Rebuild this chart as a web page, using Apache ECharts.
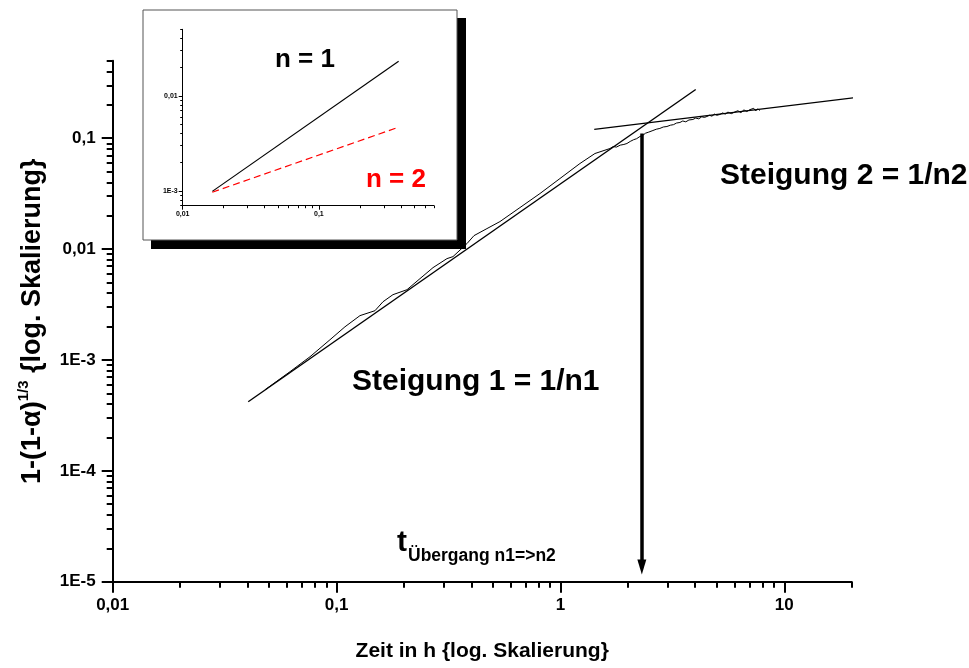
<!DOCTYPE html>
<html><head><meta charset="utf-8">
<script src="https://cdn.jsdelivr.net/npm/echarts@6/dist/echarts.min.js"></script>
<style>html,body{margin:0;padding:0;background:#fff}#c{width:969px;height:668px}</style>
</head><body><div id="c"></div>
<script>
// ---------- data ----------
const curveX = [0.0479, 0.0619, 0.0761, 0.0934, 0.109, 0.1272, 0.1484, 0.1612, 0.1786, 0.2063, 0.2358, 0.2696, 0.3112, 0.3311, 0.3823, 0.411, 0.4696, 0.5368, 0.6594, 0.8098, 0.995, 1.222, 1.426, 1.664, 1.72, 1.78, 1.85, 1.92, 1.982, 2.05, 2.12, 2.19, 2.265, 2.33, 2.40, 2.48, 2.589, 2.68, 2.78, 2.88, 2.99, 3.10, 3.20, 3.30, 3.418, 3.52, 3.63, 3.75, 3.906, 4.02, 4.15, 4.28, 4.40, 4.511, 4.63, 4.75, 4.88, 5.00, 5.158, 5.30, 5.45, 5.60, 5.80, 6.016, 6.20, 6.40, 6.60, 6.80, 7.022, 7.15, 7.30, 7.45, 7.60, 7.78];
const curveY = [5.38e-4, 7.83e-4, 1.069e-3, 1.52e-3, 1.99e-3, 2.51e-3, 2.78e-3, 3.35e-3, 3.88e-3, 4.30e-3, 5.41e-3, 6.80e-3, 8.20e-3, 8.55e-3, 0.0112, 0.01322, 0.0153, 0.0177, 0.02367, 0.03167, 0.04327, 0.0591, 0.07276, 0.0807, 0.0840, 0.0832, 0.0866, 0.0878, 0.0896, 0.0935, 0.0968, 0.0990, 0.1036, 0.1060, 0.1110, 0.1135, 0.1173, 0.1205, 0.1225, 0.1262, 0.1275, 0.1310, 0.1325, 0.1370, 0.1386, 0.1430, 0.1405, 0.1460, 0.1475, 0.1520, 0.1495, 0.1560, 0.1540, 0.1570, 0.1610, 0.1580, 0.1650, 0.1610, 0.1637, 0.1690, 0.1650, 0.1720, 0.1665, 0.1724, 0.1770, 0.1700, 0.1800, 0.1740, 0.1810, 0.1740, 0.1860, 0.1760, 0.1840, 0.1779];
const fit1X = [0.0403, 4.02];
const fit1Y = [4.2e-4, 0.275];
const fit2X = [1.416, 26.5];
const fit2Y = [0.12, 0.247];
const arrowX = 2.31;
const arrowY = [0.110, 1.36e-5];
const insetX = [0.0165, 0.385];
const insetN1 = [0.00099, 0.0231];
const insetN2 = [0.00097, 0.00468];

const xMajor = [0.01, 0.1, 1, 10];
const xMinor = [0.02,0.03,0.04,0.05,0.06,0.07,0.08,0.09,0.2,0.3,0.4,0.5,0.6,0.7,0.8,0.9,2,3,4,5,6,7,8,9,20];
const yMajor = [1e-5, 1e-4, 1e-3, 0.01, 0.1];
const yMinor = [2e-5,3e-5,4e-5,5e-5,6e-5,7e-5,8e-5,9e-5,2e-4,3e-4,4e-4,5e-4,6e-4,7e-4,8e-4,9e-4,2e-3,3e-3,4e-3,5e-3,6e-3,7e-3,8e-3,9e-3,0.02,0.03,0.04,0.05,0.06,0.07,0.08,0.09,0.2,0.3,0.4,0.5];
const inXMajor = [0.01, 0.1];
const inXMinor = [0.02,0.03,0.04,0.05,0.06,0.07,0.08,0.09,0.2,0.3,0.4,0.5,0.6,0.7];
const inYMajor = [0.001, 0.01];
const inYMinor = [7e-4,8e-4,9e-4,2e-3,3e-3,4e-3,5e-3,6e-3,7e-3,8e-3,9e-3,0.02,0.03,0.04,0.05];

const xTitle = 'Zeit in h {log. Skalierung}';
const yTitleMain = '1-(1-α)';
const yTitleSup = '1/3';
const yTitleRest = ' {log. Skalierung}';

// ---------- helpers ----------
const FONT = '"Liberation Sans", Arial, sans-serif';
function fmt(v) {
  if (v >= 1) return String(Math.round(v));
  if (v >= 0.01 - 1e-12) return String(+v.toPrecision(3)).replace('.', ',');
  return '1E' + Math.round(Math.log10(v));
}
const zip = (a, b) => a.map((v, i) => [v, b[i]]);

function logAxis(o) {
  return Object.assign({
    type: 'log', logBase: 10, offset: 0,
    splitLine: { show: false },
    axisLine: { show: true, onZero: false, lineStyle: { color: '#000', width: 2 } },
  }, o);
}

const mainLbl = { fontFamily: FONT, fontWeight: 'bold', fontSize: 17, color: '#000', formatter: fmt };
const inLbl = { fontFamily: FONT, fontWeight: 'bold', fontSize: 7, color: '#000', formatter: fmt };

const option = {
  backgroundColor: '#fff',
  animation: false,
  grid: [
    { left: 112.7, top: 60.7, width: 739, height: 521, outerBoundsMode: 'none', containLabel: false },
    { left: 182.7, top: 29.3, width: 251.3, height: 176.4, outerBoundsMode: 'none', containLabel: false, z: 5 }
  ],
  xAxis: [
    logAxis({ gridIndex: 0, position: 'bottom', min: 0.01, max: 20,
      axisTick: { customValues: xMajor, length: 11, lineStyle: { color: '#000', width: 2 } },
      axisLabel: Object.assign({ customValues: xMajor, margin: 15 }, mainLbl),
      name: xTitle, nameLocation: 'middle', nameGap: 59,
      nameTextStyle: { fontFamily: FONT, fontWeight: 'bold', fontSize: 21, color: '#000' } }),
    logAxis({ gridIndex: 0, position: 'bottom', min: 0.01, max: 20,
      axisLine: { show: false },
      axisTick: { customValues: xMinor, length: 6, lineStyle: { color: '#000', width: 2 } },
      axisLabel: { show: false } }),
    logAxis({ gridIndex: 1, position: 'bottom', min: 0.01, max: 0.7,
      axisLine: { show: true, onZero: false, lineStyle: { color: '#000', width: 1 } },
      axisTick: { customValues: inXMajor, length: 4, lineStyle: { color: '#000', width: 1 } },
      axisLabel: Object.assign({ customValues: inXMajor, margin: 5 }, inLbl) }),
    logAxis({ gridIndex: 1, position: 'bottom', min: 0.01, max: 0.7,
      axisLine: { show: false },
      axisTick: { customValues: inXMinor, length: 2.5, lineStyle: { color: '#000', width: 1 } },
      axisLabel: { show: false } })
  ],
  yAxis: [
    logAxis({ gridIndex: 0, position: 'left', min: 1e-5, max: 0.5,
      axisTick: { customValues: yMajor, length: 11, lineStyle: { color: '#000', width: 2 } },
      axisLabel: Object.assign({ customValues: yMajor, margin: 17 }, mainLbl),
      name: yTitleMain + '{s|' + yTitleSup + '}' + yTitleRest,
      nameLocation: 'middle', nameGap: 62,
      nameTextStyle: { fontFamily: FONT, fontWeight: 'bold', fontSize: 27, color: '#000', lineHeight: 33,
        rich: {
          s: { fontFamily: FONT, fontWeight: 'bold', fontSize: 15, color: '#000', lineHeight: 33, verticalAlign: 'top' } } } }),
    logAxis({ gridIndex: 0, position: 'left', min: 1e-5, max: 0.5,
      axisLine: { show: false },
      axisTick: { customValues: yMinor, length: 6, lineStyle: { color: '#000', width: 2 } },
      axisLabel: { show: false } }),
    logAxis({ gridIndex: 1, position: 'left', min: 7e-4, max: 0.05,
      axisLine: { show: true, onZero: false, lineStyle: { color: '#000', width: 1 } },
      axisTick: { customValues: inYMajor, length: 4, lineStyle: { color: '#000', width: 1 } },
      axisLabel: Object.assign({ customValues: inYMajor, margin: 5 }, inLbl) }),
    logAxis({ gridIndex: 1, position: 'left', min: 7e-4, max: 0.05,
      axisLine: { show: false },
      axisTick: { customValues: inYMinor, length: 2.5, lineStyle: { color: '#000', width: 1 } },
      axisLabel: { show: false } })
  ],
  series: [
    { type: 'line', xAxisIndex: 0, yAxisIndex: 0, data: zip(curveX, curveY), symbol: 'none',
      lineStyle: { color: '#000', width: 1 }, silent: true },
    { type: 'line', xAxisIndex: 0, yAxisIndex: 0, data: zip(fit1X, fit1Y), symbol: 'none',
      lineStyle: { color: '#000', width: 1.4 }, silent: true,
      markLine: { silent: true, symbol: ['none', 'triangle'], symbolSize: [9, 15], label: { show: false },
        lineStyle: { color: '#000', width: 3.5, type: 'solid' }, emphasis: { disabled: true },
        data: [[{ coord: [arrowX, arrowY[0]] }, { coord: [arrowX, arrowY[1]] }]] } },
    { type: 'line', xAxisIndex: 0, yAxisIndex: 0, data: zip(fit2X, fit2Y), symbol: 'none', clip: false,
      lineStyle: { color: '#000', width: 1.4 }, silent: true },
    { type: 'line', xAxisIndex: 2, yAxisIndex: 2, data: zip(insetX, insetN1), symbol: 'none', z: 10,
      lineStyle: { color: '#000', width: 1.2 }, silent: true },
    { type: 'line', xAxisIndex: 2, yAxisIndex: 2, data: zip(insetX, insetN2), symbol: 'none', z: 10,
      lineStyle: { color: '#ff0000', width: 1.2, type: [7, 4] }, silent: true }
  ],
  graphic: [
    { type: 'rect', z: -20, shape: { x: 151, y: 18, width: 315, height: 231 }, style: { fill: '#000' }, silent: true },
    { type: 'rect', z: -19, shape: { x: 143, y: 10, width: 314, height: 230 }, style: { fill: '#fff', stroke: '#555', lineWidth: 1 }, silent: true },
    { type: 'text', z: 50, x: 305, y: 60, style: { text: 'n = 1', font: 'bold 26px ' + FONT, fill: '#000', textAlign: 'center', textVerticalAlign: 'middle' } },
    { type: 'text', z: 50, x: 396, y: 180, style: { text: 'n = 2', font: 'bold 26px ' + FONT, fill: '#ff0000', textAlign: 'center', textVerticalAlign: 'middle' } },
    { type: 'text', z: 50, x: 352, y: 382, style: { text: 'Steigung 1 = 1/n1', font: 'bold 30px ' + FONT, fill: '#000', textAlign: 'left', textVerticalAlign: 'middle' } },
    { type: 'text', z: 50, x: 720, y: 176, style: { text: 'Steigung 2 = 1/n2', font: 'bold 30px ' + FONT, fill: '#000', textAlign: 'left', textVerticalAlign: 'middle' } },
    { type: 'text', z: 50, x: 397, y: 543, style: { text: 't', font: 'bold 30px ' + FONT, fill: '#000', textAlign: 'left', textVerticalAlign: 'middle' } },
    { type: 'text', z: 50, x: 408, y: 556, style: { text: 'Übergang n1=>n2', font: 'bold 17.5px ' + FONT, fill: '#000', textAlign: 'left', textVerticalAlign: 'middle' } }
  ]
};

const chart = echarts.init(document.getElementById('c'), null, { renderer: 'canvas' });
chart.setOption(option);
</script>
</body></html>
